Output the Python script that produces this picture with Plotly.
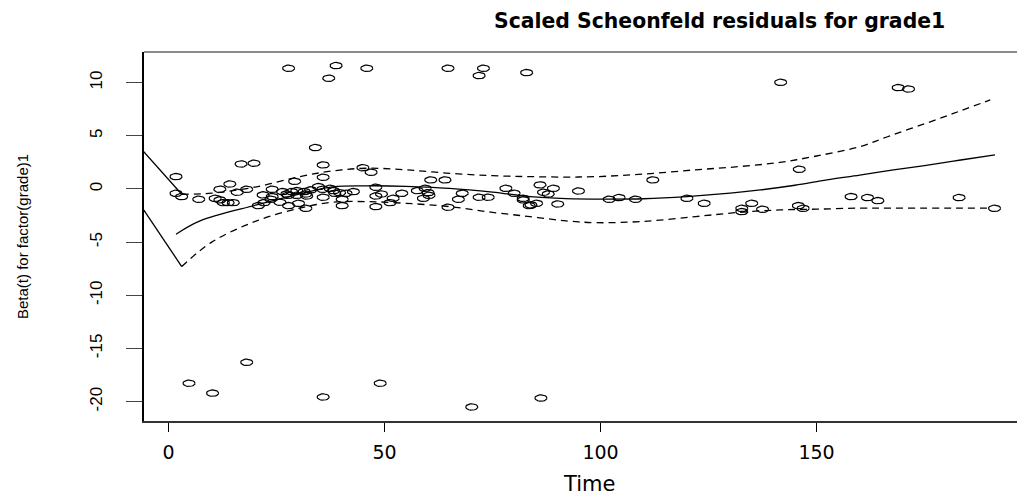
import numpy as np
import plotly.graph_objects as go

# ---------------- data ----------------
time_pts = [27.8, 38.8, 37.1, 45.9, 64.7, 72.9, 71.9, 82.9, 141.7, 168.9, 171.3,
            34.0, 1.74, 16.8, 19.8, 35.8, 35.8, 45.0, 46.9, 29.2, 60.7, 64.0, 112.1, 146.0,
            14.2, 11.9, 18.1, 15.9, 1.74, 3.05, 7.0, 10.8, 11.9, 12.7, 13.8, 15.0,
            21.9, 24.0, 24.0, 20.8, 22.1, 23.7, 25.8, 27.8, 30.1, 31.8,
            27.7, 29.7, 32.0, 35.8, 40.2, 40.2, 42.8, 39.6, 41.1,
            48.0, 48.0, 49.3, 48.0, 51.3, 52.0, 54.0, 57.6,
            59.4, 60.1, 60.3, 59.0, 64.7,
            26.4, 27.4, 28.5, 29.7, 31.4, 31.8, 32.9, 34.7, 35.7, 37.4, 38.2, 38.5,
            68.0, 67.1, 71.9, 74.0, 78.1, 80.0, 82.1, 82.1, 83.5, 83.9, 85.2, 86.0,
            89.1, 86.8, 87.9, 90.1, 94.9, 102.0, 104.3, 108.1, 120.0, 124.0,
            132.7, 132.7, 135.0, 137.5, 158.0, 161.8, 164.2, 183.0, 145.8, 146.9, 191.2,
            4.75, 10.2, 18.1, 35.8, 49.0, 70.2, 86.2]
resid_pts = [11.35, 11.6, 10.41, 11.35, 11.35, 11.35, 10.66, 10.94, 10.03, 9.53, 9.4,
             3.89, 1.16, 2.35, 2.42, 2.26, 1.1, 2.0, 1.57, 0.72, 0.85, 0.85, 0.85, 1.85,
             0.47, -0.03, -0.03, -0.31, -0.41, -0.72, -0.97, -0.88, -1.03, -1.29, -1.29, -1.29,
             -0.56, -0.03, -0.72, -1.57, -1.29, -0.97, -1.25, -1.57, -1.35, -1.82,
             -0.6, -0.6, -0.66, -0.78, -0.97, -1.57, -0.25, -0.35, -0.41,
             0.16, -0.66, -0.47, -1.66, -1.29, -0.88, -0.41, -0.16,
             0.06, -0.35, -0.6, -0.88, -1.72,
             -0.25, -0.47, -0.25, -0.16, -0.25, -0.47, -0.09, 0.22, -0.03, 0.06, -0.16, -0.41,
             -0.41, -0.97, -0.78, -0.78, 0.06, -0.41, -0.88, -1.03, -1.57, -1.5, -1.35, 0.38,
             0.06, -0.31, -0.47, -1.41, -0.19, -0.97, -0.81, -0.97, -0.88, -1.35,
             -1.82, -2.13, -1.35, -1.91, -0.72, -0.81, -1.1, -0.81, -1.57, -1.82, -1.82,
             -18.27, -19.2, -16.3, -19.56, -18.27, -20.5, -19.66]

fit_time = [1.74, 7.3, 20.4, 30.0, 38.0, 45.9, 55.0, 65.0, 75.0, 83.7, 92.0, 100.6,
            110.0, 120.0, 130.0, 137.0, 145.0, 152.4, 160.0, 167.8, 175.0, 183.0, 191.3]
fit_beta = [-4.26, -3.0, -1.5, -0.5, 0.2, 0.3, 0.25, 0.06, -0.3, -0.72, -0.9, -0.95,
            -0.92, -0.72, -0.4, -0.09, 0.35, 0.85, 1.3, 1.79, 2.2, 2.7, 3.2]

band_time = [3.06, 10.0, 20.4, 30.4, 38.0, 45.9, 55.0, 65.1, 75.0, 83.7, 92.0, 99.0,
             110.0, 122.0, 132.0, 141.5, 150.0, 160.0, 167.0, 175.5, 183.0, 190.2]
band_upper = [-0.5, -0.4, 0.2, 1.16, 1.7, 1.95, 1.8, 1.47, 1.25, 1.16, 1.12, 1.16,
              1.4, 1.8, 2.1, 2.5, 3.1, 3.98, 5.0, 6.2, 7.3, 8.37]
band_lower = [-7.3, -5.0, -3.0, -1.8, -1.25, -1.19, -1.35, -1.66, -2.2, -2.6, -3.0, -3.17,
              -3.05, -2.6, -2.2, -1.97, -1.9, -1.8, -1.8, -1.8, -1.8, -1.8]

lead_time = [-5.74, 3.06]
lead_upper = [3.51, -0.5]
lead_lower = [-1.97, -7.3]

x_ticks = [0, 50, 100, 150]
x_labels = ["0", "50", "100", "150"]
y_ticks = [-20, -15, -10, -5, 0, 5, 10]
y_labels = ["-20", "-15", "-10", "-5", "0", "5", "10"]

# ---------------- figure ----------------
W, H = 1017, 497
ML, MR, MT, MB = 144, 0, 52, 76
x_range = [-5.67, 196.4]
y_range = [-21.82, 12.88]

# open ellipses for the residual points (R's pch=1 on a stretched device)
px_per_x = (W - ML - MR) / (x_range[1] - x_range[0])
px_per_y = (H - MT - MB) / (y_range[1] - y_range[0])
ax_ = 6.0 / px_per_x
by_ = 3.2 / px_per_y
theta = np.linspace(0, 2 * np.pi, 25)
ex, ey = [], []
for xi, yi in zip(time_pts, resid_pts):
    ex.extend((xi + ax_ * np.cos(theta)).tolist())
    ey.extend((yi + by_ * np.sin(theta)).tolist())
    ex.append(None)
    ey.append(None)

fig = go.Figure()
fig.add_trace(go.Scatter(x=ex, y=ey, mode="lines",
                         line=dict(color="black", width=1.2),
                         hoverinfo="skip", showlegend=False))
fig.add_trace(go.Scatter(x=fit_time, y=fit_beta, mode="lines", line_shape="spline",
                         line=dict(color="black", width=1.3), showlegend=False))
fig.add_trace(go.Scatter(x=band_time, y=band_upper, mode="lines", line_shape="spline",
                         line=dict(color="black", width=1.3, dash="7px,5px"), showlegend=False))
fig.add_trace(go.Scatter(x=band_time, y=band_lower, mode="lines", line_shape="spline",
                         line=dict(color="black", width=1.3, dash="7px,5px"), showlegend=False))
fig.add_trace(go.Scatter(x=lead_time, y=lead_upper, mode="lines",
                         line=dict(color="black", width=1.3), showlegend=False))
fig.add_trace(go.Scatter(x=lead_time, y=lead_lower, mode="lines",
                         line=dict(color="black", width=1.3), showlegend=False))

fig.update_layout(
    width=W, height=H,
    margin=dict(l=ML, r=MR, t=MT, b=MB),
    paper_bgcolor="white", plot_bgcolor="white",
    showlegend=False,
    xaxis=dict(range=x_range, showgrid=False, zeroline=False,
               showline=True, linecolor="#333333", linewidth=2,
               ticks="outside", ticklen=9, tickwidth=1.2, tickcolor="black",
               tickvals=x_ticks, ticktext=x_labels, ticklabelstandoff=4,
               tickfont=dict(family="DejaVu Sans", size=19, color="black")),
    yaxis=dict(range=y_range, showgrid=False, zeroline=False,
               showline=True, linecolor="black", linewidth=2,
               ticks="outside", ticklen=16, tickwidth=1.2, tickcolor="#444444",
               tickvals=y_ticks, ticktext=y_labels, tickangle=-90,
               ticklabelstandoff=17,
               tickfont=dict(family="Liberation Sans, Arial", size=17, color="black")),
    shapes=[dict(type="line", xref="paper", yref="paper", x0=0, x1=1, y0=1, y1=1,
                 line=dict(color="#666666", width=1.5))],
    annotations=[
        dict(text="<b>Scaled Scheonfeld residuals for grade1</b>", xref="paper", yref="paper",
             x=(719 - ML) / (W - ML - MR), y=1 + (MT - 21) / (H - MT - MB),
             showarrow=False, xanchor="center", yanchor="middle",
             font=dict(family="DejaVu Sans", size=20.4, color="black")),
        dict(text="Time", xref="paper", yref="paper",
             x=(589 - ML) / (W - ML - MR), y=-(484 - (H - MB)) / (H - MT - MB),
             showarrow=False, xanchor="center", yanchor="middle",
             font=dict(family="DejaVu Sans", size=21, color="black")),
        dict(text="Beta(t) for factor(grade)1", xref="paper", yref="paper",
             x=-(ML - 23) / (W - ML - MR), y=(H - MB - 237) / (H - MT - MB),
             showarrow=False, xanchor="center", yanchor="middle", textangle=-90,
             font=dict(family="Liberation Sans, Arial", size=15, color="black")),
    ],
)

fig.write_html("out.html")
